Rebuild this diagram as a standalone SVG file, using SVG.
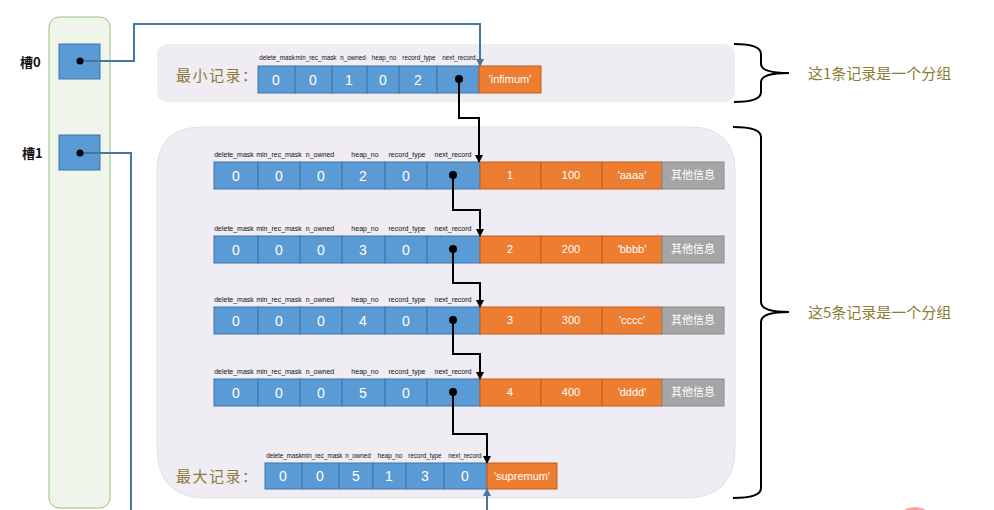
<svg xmlns="http://www.w3.org/2000/svg" width="994" height="510" viewBox="0 0 994 510">
<defs>
<style>
.lbl{font-family:"Liberation Sans","Noto Sans",sans-serif;font-size:7px;fill:#111;text-anchor:middle}
.lbs{font-family:"Liberation Sans","Noto Sans",sans-serif;font-size:6.3px;fill:#111;text-anchor:middle}
.b{fill:#5b9bd5;stroke:#3f74a8;stroke-width:1}
.o{fill:#ed7d31;stroke:#c45d1c;stroke-width:1}
.g{fill:#a5a5a5;stroke:#8a8a8a;stroke-width:1}
.v{font-family:"Liberation Sans","Noto Sans",sans-serif;font-size:14px;fill:#fff;text-anchor:middle}
.vs{font-family:"Liberation Sans","Noto Sans",sans-serif;font-size:11px;fill:#fff;text-anchor:middle}
.cj{font-family:"Noto Sans CJK SC","Noto Sans",sans-serif;fill:#fff;font-size:11px;text-anchor:middle}
.ol{font-family:"Noto Sans CJK SC","Noto Sans",sans-serif;fill:#8b7b32;font-size:15px}
.slot{font-family:"Noto Sans CJK SC","Liberation Sans",sans-serif;font-size:13px;font-weight:bold;fill:#111}
.k{fill:none;stroke:#000;stroke-width:2}
.bl{fill:none;stroke:#4675a6;stroke-width:2}
.dot{fill:#000}
</style>
<marker id="ak" markerWidth="8" markerHeight="8" refX="4" refY="4" orient="auto" markerUnits="userSpaceOnUse"><path d="M0,0 L8,4 L0,8 z" fill="#000"/></marker>
<marker id="ab" markerWidth="8" markerHeight="8" refX="4" refY="4" orient="auto" markerUnits="userSpaceOnUse"><path d="M0,0 L8,4 L0,8 z" fill="#4675a6"/></marker>
</defs>
<rect width="994" height="510" fill="#fff"/>
<circle cx="915" cy="528" r="21" fill="#f6a3a3"/>

<g id="slots">
<rect x="49" y="17" width="61" height="491" rx="10" fill="#eff5ea" stroke="#93c47d" stroke-width="1"/>
</g>
<g id="slot0"><rect x="59" y="44" width="41" height="35" fill="#5b9bd5" stroke="#3f74a8"/><text class="slot" x="20" y="67">槽0</text></g>
<g id="slot1"><rect x="59" y="135" width="41" height="35" fill="#5b9bd5" stroke="#3f74a8"/><text class="slot" x="22" y="158">槽1</text></g>

<g id="group1">
<rect x="157" y="44" width="578" height="58" rx="10" fill="#efecf4"/>
</g>
<g id="group2">
<path d="M202,127 H690 Q735,127 735,172 V448 Q735,498 685,498 H207 Q157,498 157,448 V172 Q157,127 202,127 Z" fill="#efecf4" stroke="#e2dfe8" stroke-width="1"/>
</g>

<g id="infimum">
<text class="ol" x="176" y="81" letter-spacing="1.5">最小记录：</text>
<text class="lbs" x="277" y="60">delete_mask</text><text class="lbs" x="316" y="60">min_rec_mask</text><text class="lbs" x="353" y="60">n_owned</text><text class="lbs" x="384" y="60">heap_no</text><text class="lbs" x="419" y="60">record_type</text><text class="lbs" x="459" y="60">next_record</text>
<rect class="b" x="258" y="66" width="37" height="27"/><rect class="b" x="295" y="66" width="37" height="27"/><rect class="b" x="332" y="66" width="35" height="27"/><rect class="b" x="367" y="66" width="32" height="27"/><rect class="b" x="399" y="66" width="38" height="27"/><rect class="b" x="437" y="66" width="42" height="27"/>
<rect class="o" x="479" y="66" width="62" height="27"/>
<text class="v" x="276" y="85">0</text><text class="v" x="313" y="85">0</text><text class="v" x="349" y="85">1</text><text class="v" x="383" y="85">0</text><text class="v" x="418" y="85">2</text>
<text class="vs" x="510" y="83">'infimum'</text>
</g>

<g id="rec1">
<text class="lbl" x="234" y="157">delete_mask</text><text class="lbl" x="279" y="157">min_rec_mask</text><text class="lbl" x="320" y="157">n_owned</text><text class="lbl" x="365" y="157">heap_no</text><text class="lbl" x="407" y="157">record_type</text><text class="lbl" x="453" y="157">next_record</text>
<rect class="b" x="214" y="162" width="44" height="27"/><rect class="b" x="258" y="162" width="42" height="27"/><rect class="b" x="300" y="162" width="42" height="27"/><rect class="b" x="342" y="162" width="43" height="27"/><rect class="b" x="385" y="162" width="42" height="27"/><rect class="b" x="427" y="162" width="53" height="27"/>
<rect class="o" x="480" y="162" width="61" height="27"/><rect class="o" x="541" y="162" width="61" height="27"/><rect class="o" x="602" y="162" width="60" height="27"/><rect class="g" x="662" y="162" width="62" height="27"/>
<text class="v" x="236" y="181">0</text><text class="v" x="279" y="181">0</text><text class="v" x="321" y="181">0</text><text class="v" x="363" y="181">2</text><text class="v" x="406" y="181">0</text>
<text class="vs" x="510" y="179">1</text><text class="vs" x="571" y="179">100</text><text class="vs" x="632" y="179">'aaaa'</text><text class="cj" x="693" y="179">其他信息</text>
</g>

<g id="rec2">
<text class="lbl" x="234" y="231">delete_mask</text><text class="lbl" x="279" y="231">min_rec_mask</text><text class="lbl" x="320" y="231">n_owned</text><text class="lbl" x="365" y="231">heap_no</text><text class="lbl" x="407" y="231">record_type</text><text class="lbl" x="453" y="231">next_record</text>
<rect class="b" x="214" y="236" width="44" height="27"/><rect class="b" x="258" y="236" width="42" height="27"/><rect class="b" x="300" y="236" width="42" height="27"/><rect class="b" x="342" y="236" width="43" height="27"/><rect class="b" x="385" y="236" width="42" height="27"/><rect class="b" x="427" y="236" width="53" height="27"/>
<rect class="o" x="480" y="236" width="61" height="27"/><rect class="o" x="541" y="236" width="61" height="27"/><rect class="o" x="602" y="236" width="60" height="27"/><rect class="g" x="662" y="236" width="62" height="27"/>
<text class="v" x="236" y="255">0</text><text class="v" x="279" y="255">0</text><text class="v" x="321" y="255">0</text><text class="v" x="363" y="255">3</text><text class="v" x="406" y="255">0</text>
<text class="vs" x="510" y="253">2</text><text class="vs" x="571" y="253">200</text><text class="vs" x="632" y="253">'bbbb'</text><text class="cj" x="693" y="253">其他信息</text>
</g>

<g id="rec3">
<text class="lbl" x="234" y="302">delete_mask</text><text class="lbl" x="279" y="302">min_rec_mask</text><text class="lbl" x="320" y="302">n_owned</text><text class="lbl" x="365" y="302">heap_no</text><text class="lbl" x="407" y="302">record_type</text><text class="lbl" x="453" y="302">next_record</text>
<rect class="b" x="214" y="307" width="44" height="27"/><rect class="b" x="258" y="307" width="42" height="27"/><rect class="b" x="300" y="307" width="42" height="27"/><rect class="b" x="342" y="307" width="43" height="27"/><rect class="b" x="385" y="307" width="42" height="27"/><rect class="b" x="427" y="307" width="53" height="27"/>
<rect class="o" x="480" y="307" width="61" height="27"/><rect class="o" x="541" y="307" width="61" height="27"/><rect class="o" x="602" y="307" width="60" height="27"/><rect class="g" x="662" y="307" width="62" height="27"/>
<text class="v" x="236" y="326">0</text><text class="v" x="279" y="326">0</text><text class="v" x="321" y="326">0</text><text class="v" x="363" y="326">4</text><text class="v" x="406" y="326">0</text>
<text class="vs" x="510" y="324">3</text><text class="vs" x="571" y="324">300</text><text class="vs" x="632" y="324">'cccc'</text><text class="cj" x="693" y="324">其他信息</text>
</g>

<g id="rec4">
<text class="lbl" x="234" y="374">delete_mask</text><text class="lbl" x="279" y="374">min_rec_mask</text><text class="lbl" x="320" y="374">n_owned</text><text class="lbl" x="365" y="374">heap_no</text><text class="lbl" x="407" y="374">record_type</text><text class="lbl" x="453" y="374">next_record</text>
<rect class="b" x="214" y="379" width="44" height="27"/><rect class="b" x="258" y="379" width="42" height="27"/><rect class="b" x="300" y="379" width="42" height="27"/><rect class="b" x="342" y="379" width="43" height="27"/><rect class="b" x="385" y="379" width="42" height="27"/><rect class="b" x="427" y="379" width="53" height="27"/>
<rect class="o" x="480" y="379" width="61" height="27"/><rect class="o" x="541" y="379" width="61" height="27"/><rect class="o" x="602" y="379" width="60" height="27"/><rect class="g" x="662" y="379" width="62" height="27"/>
<text class="v" x="236" y="398">0</text><text class="v" x="279" y="398">0</text><text class="v" x="321" y="398">0</text><text class="v" x="363" y="398">5</text><text class="v" x="406" y="398">0</text>
<text class="vs" x="510" y="396">4</text><text class="vs" x="571" y="396">400</text><text class="vs" x="632" y="396">'dddd'</text><text class="cj" x="693" y="396">其他信息</text>
</g>

<g id="supremum">
<text class="ol" x="176" y="482" letter-spacing="1.5">最大记录：</text>
<text class="lbs" x="284" y="458">delete_mask</text><text class="lbs" x="322" y="458">min_rec_mask</text><text class="lbs" x="358" y="458">n_owned</text><text class="lbs" x="390" y="458">heap_no</text><text class="lbs" x="425" y="458">record_type</text><text class="lbs" x="465" y="458">next_record</text>
<rect class="b" x="265" y="463" width="37" height="26"/><rect class="b" x="302" y="463" width="37" height="26"/><rect class="b" x="339" y="463" width="34" height="26"/><rect class="b" x="373" y="463" width="33" height="26"/><rect class="b" x="406" y="463" width="38" height="26"/><rect class="b" x="444" y="463" width="43" height="26"/>
<rect class="o" x="487" y="463" width="70" height="26"/>
<text class="v" x="283" y="481">0</text><text class="v" x="320" y="481">0</text><text class="v" x="356" y="481">5</text><text class="v" x="389" y="481">1</text><text class="v" x="425" y="481">3</text><text class="v" x="465" y="481">0</text>
<text class="vs" x="522" y="480">'supremum'</text>
</g>

<g id="braces">
<path class="k" d="M734,44 Q761,44 761,54 V64 Q761,73 789,73 Q761,73 761,82 V92 Q761,102 734,102"/>
<path class="k" d="M733,127 Q761,127 761,137 V302 Q761,312 789,312 Q761,312 761,322 V488 Q761,498 733,498"/>
<text class="ol" x="808" y="79">这1条记录是一个分组</text>
<text class="ol" x="808" y="318">这5条记录是一个分组</text>
</g>

<g id="connectors">
<path class="bl" d="M80,61 H134 V24 H480 V63" marker-end="url(#ab)"/>
<path class="bl" d="M80,153 H131 V510"/>
<path class="bl" d="M487,510 V492" marker-end="url(#ab)"/>
<path class="k" d="M459,79 V118 H479 V159" marker-end="url(#ak)"/>
<path class="k" d="M453,175 V210 H480 V233" marker-end="url(#ak)"/>
<path class="k" d="M453,249 V283 H480 V304" marker-end="url(#ak)"/>
<path class="k" d="M453,320 V354 H480 V376" marker-end="url(#ak)"/>
<path class="k" d="M453,392 V434 H487 V460" marker-end="url(#ak)"/>
<circle class="dot" cx="80" cy="61" r="3.5"/>
<circle class="dot" cx="80" cy="153" r="3.5"/>
<circle class="dot" cx="459" cy="79" r="4"/>
<circle class="dot" cx="453" cy="175" r="4"/>
<circle class="dot" cx="453" cy="249" r="4"/>
<circle class="dot" cx="453" cy="320" r="4"/>
<circle class="dot" cx="453" cy="392" r="4"/>
</g>
</svg>
